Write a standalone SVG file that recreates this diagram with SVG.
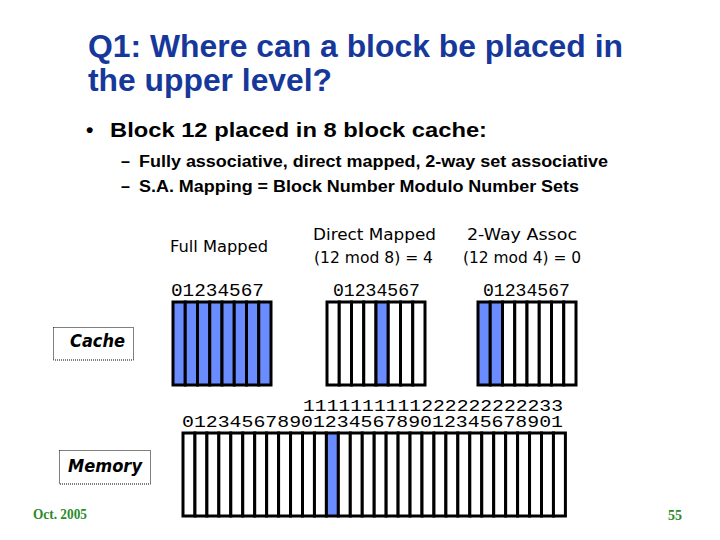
<svg xmlns="http://www.w3.org/2000/svg" width="720" height="540" viewBox="0 0 720 540">
<style>
.title{font-family:"Liberation Sans",Arial,sans-serif;font-weight:bold;font-size:32px;fill:#17389b}
.b1{font-family:"Liberation Sans",Arial,sans-serif;font-weight:bold;font-size:21px;fill:#000}
.b2{font-family:"Liberation Sans",Arial,sans-serif;font-weight:bold;font-size:16px;fill:#000}
.lab{font-family:"DejaVu Sans",Verdana,sans-serif;font-size:16px;fill:#000}
.dig{font-family:"Liberation Mono","Courier New",monospace;font-size:19px;fill:#000}
.mdig{font-family:"Liberation Mono","Courier New",monospace;font-size:16.5px;fill:#000}
.box{font-family:"DejaVu Sans",Verdana,sans-serif;font-size:17px;font-weight:bold;font-style:italic;fill:#000}
.ft{font-family:"Liberation Serif","Times New Roman",serif;font-weight:bold;font-size:14px;fill:#2a8a2a}
.c{fill:#fff;stroke:#000;stroke-width:3}
.h{fill:#6a8cff;stroke:#000;stroke-width:3}
.m{fill:#fff;stroke:#000;stroke-width:3}
.lb{fill:#fff;stroke:#000;stroke-width:1;stroke-dasharray:1 1}
</style>
<rect width="720" height="540" fill="#fff"/>
<g id="title">
<text class="title" x="88" y="57" textLength="535" lengthAdjust="spacingAndGlyphs">Q1: Where can a block be placed in</text>
<text class="title" x="88" y="91" textLength="244" lengthAdjust="spacingAndGlyphs">the upper level?</text>
</g>
<g id="bullets">
<text class="b1" x="86" y="137">•</text>
<text class="b1" x="110" y="137" textLength="377" lengthAdjust="spacingAndGlyphs">Block 12 placed in 8 block cache:</text>
<text class="b2" x="121" y="167">–</text>
<text class="b2" x="139" y="167" textLength="469" lengthAdjust="spacingAndGlyphs">Fully associative, direct mapped, 2-way set associative</text>
<text class="b2" x="121" y="192">–</text>
<text class="b2" x="139" y="192" textLength="440" lengthAdjust="spacingAndGlyphs">S.A. Mapping = Block Number Modulo Number Sets</text>
</g>
<g id="full-mapped">
<text class="lab" x="170" y="252" textLength="98" lengthAdjust="spacingAndGlyphs">Full Mapped</text>
<text class="dig" x="171" y="296" textLength="93" lengthAdjust="spacingAndGlyphs">01234567</text>
<rect class="h" x="173" y="302" width="12.25" height="83"/>
<rect class="h" x="185.25" y="302" width="12.25" height="83"/>
<rect class="h" x="197.5" y="302" width="12.25" height="83"/>
<rect class="h" x="209.75" y="302" width="12.25" height="83"/>
<rect class="h" x="222" y="302" width="12.25" height="83"/>
<rect class="h" x="234.25" y="302" width="12.25" height="83"/>
<rect class="h" x="246.5" y="302" width="12.25" height="83"/>
<rect class="h" x="258.75" y="302" width="12.25" height="83"/>
</g>
<g id="direct-mapped">
<text class="lab" x="313" y="240" textLength="123" lengthAdjust="spacingAndGlyphs">Direct Mapped</text>
<text class="lab" x="314" y="263" textLength="119" lengthAdjust="spacingAndGlyphs">(12 mod 8) = 4</text>
<text class="dig" x="333" y="296" textLength="87" lengthAdjust="spacingAndGlyphs">01234567</text>
<rect class="c" x="327" y="302" width="12.25" height="83"/>
<rect class="c" x="339.25" y="302" width="12.25" height="83"/>
<rect class="c" x="351.5" y="302" width="12.25" height="83"/>
<rect class="c" x="363.75" y="302" width="12.25" height="83"/>
<rect class="h" x="376" y="302" width="12.25" height="83"/>
<rect class="c" x="388.25" y="302" width="12.25" height="83"/>
<rect class="c" x="400.5" y="302" width="12.25" height="83"/>
<rect class="c" x="412.75" y="302" width="12.25" height="83"/>
</g>
<g id="two-way">
<text class="lab" x="467" y="240" textLength="110" lengthAdjust="spacingAndGlyphs">2-Way Assoc</text>
<text class="lab" x="463" y="263" textLength="118" lengthAdjust="spacingAndGlyphs">(12 mod 4) = 0</text>
<text class="dig" x="483" y="296" textLength="87" lengthAdjust="spacingAndGlyphs">01234567</text>
<rect class="h" x="478" y="302" width="12.25" height="83"/>
<rect class="h" x="490.25" y="302" width="12.25" height="83"/>
<rect class="c" x="502.5" y="302" width="12.25" height="83"/>
<rect class="c" x="514.75" y="302" width="12.25" height="83"/>
<rect class="c" x="527" y="302" width="12.25" height="83"/>
<rect class="c" x="539.25" y="302" width="12.25" height="83"/>
<rect class="c" x="551.5" y="302" width="12.25" height="83"/>
<rect class="c" x="563.75" y="302" width="12.25" height="83"/>
</g>
<g id="cache-label">
<rect class="lb" x="53.5" y="327.5" width="80" height="32.5"/>
<text class="box" x="70" y="347" textLength="55" lengthAdjust="spacingAndGlyphs">Cache</text>
</g>
<g id="memory">
<text class="mdig" x="303" y="411" textLength="260" lengthAdjust="spacingAndGlyphs">1111111111222222222233</text>
<text class="mdig" x="182" y="427" textLength="381" lengthAdjust="spacingAndGlyphs">01234567890123456789012345678901</text>
<rect class="m" x="183" y="433" width="11.95" height="83"/>
<rect class="m" x="194.95" y="433" width="11.95" height="83"/>
<rect class="m" x="206.9" y="433" width="11.95" height="83"/>
<rect class="m" x="218.85" y="433" width="11.95" height="83"/>
<rect class="m" x="230.8" y="433" width="11.95" height="83"/>
<rect class="m" x="242.75" y="433" width="11.95" height="83"/>
<rect class="m" x="254.7" y="433" width="11.95" height="83"/>
<rect class="m" x="266.65" y="433" width="11.95" height="83"/>
<rect class="m" x="278.6" y="433" width="11.95" height="83"/>
<rect class="m" x="290.55" y="433" width="11.95" height="83"/>
<rect class="m" x="302.5" y="433" width="11.95" height="83"/>
<rect class="m" x="314.45" y="433" width="11.95" height="83"/>
<rect class="h" x="326.4" y="433" width="11.95" height="83"/>
<rect class="m" x="338.35" y="433" width="11.95" height="83"/>
<rect class="m" x="350.3" y="433" width="11.95" height="83"/>
<rect class="m" x="362.25" y="433" width="11.95" height="83"/>
<rect class="m" x="374.2" y="433" width="11.95" height="83"/>
<rect class="m" x="386.15" y="433" width="11.95" height="83"/>
<rect class="m" x="398.1" y="433" width="11.95" height="83"/>
<rect class="m" x="410.05" y="433" width="11.95" height="83"/>
<rect class="m" x="422" y="433" width="11.95" height="83"/>
<rect class="m" x="433.95" y="433" width="11.95" height="83"/>
<rect class="m" x="445.9" y="433" width="11.95" height="83"/>
<rect class="m" x="457.85" y="433" width="11.95" height="83"/>
<rect class="m" x="469.8" y="433" width="11.95" height="83"/>
<rect class="m" x="481.75" y="433" width="11.95" height="83"/>
<rect class="m" x="493.7" y="433" width="11.95" height="83"/>
<rect class="m" x="505.65" y="433" width="11.95" height="83"/>
<rect class="m" x="517.6" y="433" width="11.95" height="83"/>
<rect class="m" x="529.55" y="433" width="11.95" height="83"/>
<rect class="m" x="541.5" y="433" width="11.95" height="83"/>
<rect class="m" x="553.45" y="433" width="11.95" height="83"/>
</g>
<g id="memory-label">
<rect class="lb" x="59.5" y="450.5" width="91" height="33.5"/>
<text class="box" x="68" y="472" textLength="74" lengthAdjust="spacingAndGlyphs">Memory</text>
</g>
<g id="footer">
<text class="ft" x="33" y="519" textLength="54" lengthAdjust="spacingAndGlyphs">Oct. 2005</text>
<text class="ft" x="668" y="520">55</text>
</g>
</svg>
